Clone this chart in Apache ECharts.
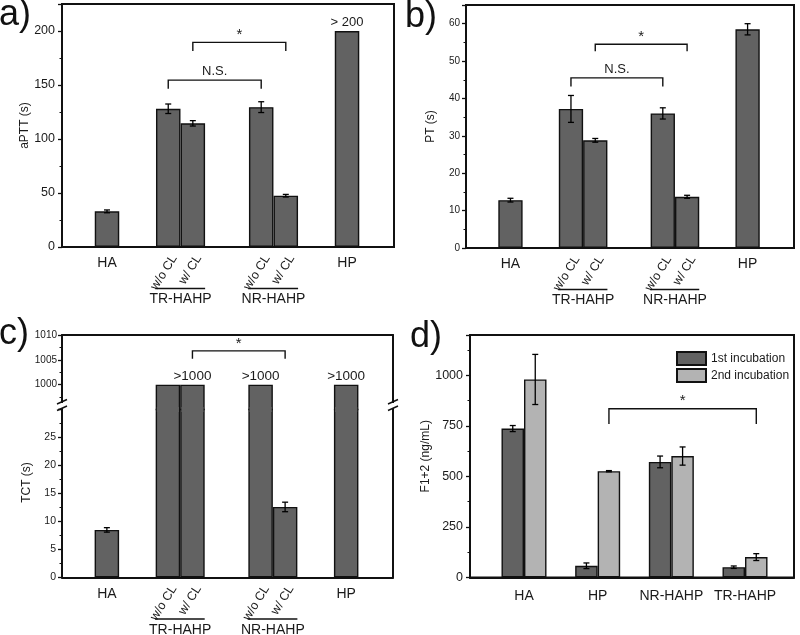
<!DOCTYPE html>
<html><head><meta charset="utf-8">
<script src="https://cdn.jsdelivr.net/npm/echarts@6/dist/echarts.min.js"></script>
<style>html,body{margin:0;padding:0;background:#fff}#c{width:800px;height:635px}</style>
</head><body><div id="c"></div>
<script>
// ---------------- data ----------------
const groupsABC = ['HA', 'TR-HAHP', 'NR-HAHP', 'HP'];
const subLabels = ['w/o CL', 'w/ CL'];
const barsABC = ['HA', 'TR-HAHP w/o CL', 'TR-HAHP w/ CL', 'NR-HAHP w/o CL', 'NR-HAHP w/ CL', 'HP'];
const aPTT = [33, 128, 114.5, 129.5, 47.5, 200];
const aPTTErr = [1.3, 4.4, 2.5, 5, 1.2, 0];
const PT = [12.8, 37.2, 28.8, 36.0, 13.7, 58.5];
const PTErr = [0.5, 3.6, 0.5, 1.5, 0.4, 1.5];
const TCT = [8.5, 1000, 1000, 1000, 12.6, 1000];
const TCTErr = [0.4, 0, 0, 0, 0.85, 0];
const topLabelsA = ['', '', '', '', '', '> 200'];
const topLabelsC = ['', '', '>1000', '>1000', '', '>1000'];
const groupsD = ['HA', 'HP', 'NR-HAHP', 'TR-HAHP'];
const seriesD = ['1st incubation', '2nd incubation'];
const F12first = [737, 58, 572, 51];
const F12firstErr = [15, 14, 29, 6];
const F12second = [980, 526, 601, 101];
const F12secondErr = [124, 3, 45, 17];
// significance brackets: bar indices, bracket level, leg end, text
const bracketsA = [{a: 1, b: 3, y: 154.5, leg: 146.5, t: 'N.S.'}, {a: 2, b: 4, y: 189.5, leg: 181.5, t: '*'}];
const bracketsB = [{a: 1, b: 3, y: 45.5, leg: 43.2, t: 'N.S.'}, {a: 2, b: 4, y: 54.5, leg: 52.6, t: '*'}];
const bracketsC = [{a: 2, b: 4, y: 1006.8, leg: 1005.2, t: '*'}];
const bracketsD = [{a: 1, b: 3, y: 835, leg: 760, t: '*'}];

// ---------------- layout / style ----------------
const FONT = '"Liberation Sans", Arial, Helvetica, sans-serif';
const TXT = '#1a1a1a', EDGE = '#111', DARK = '#626262', LIGHT = '#b3b3b3';
const LW = 2;
const groupCenter = [1.83, 4.82, 8.6, 11.59];
const barGroup = [0, 1, 1, 2, 2, 3];
const barOffset = [0, -0.5, 0.5, -0.5, 0.5, 0];
const barX = barGroup.map((g, i) => groupCenter[g] + barOffset[i]);
const C_TOP_MIN = 995, C_BOT_MAX = 30;
const BW = 24.5, BWD = 22.5;

const chart = echarts.init(document.getElementById('c'), null, {renderer: 'canvas'});

function txtStyle(text, size, align, valign) {
  return {text: text, fill: TXT, font: size + 'px ' + FONT, align: align, textAlign: align,
          verticalAlign: valign, textVerticalAlign: valign};
}
function xAxisABC(grid, pos) {
  return {type: 'value', gridIndex: grid, min: 0, max: 13.5, position: pos || 'bottom',
    axisLine: {show: true, onZero: false, lineStyle: {color: EDGE, width: LW}},
    axisTick: {show: false}, axisLabel: {show: false}, splitLine: {show: false}};
}
function yAxisBase(grid, o) {
  return Object.assign({type: 'value', gridIndex: grid,
    axisLine: {show: true, onZero: false, lineStyle: {color: EDGE, width: LW}},
    axisTick: {show: true, inside: false, length: 4, lineStyle: {color: EDGE, width: 1.3}},
    minorTick: {show: true, splitNumber: 2, length: 2.5, lineStyle: {color: EDGE, width: 1}},
    splitLine: {show: false},
    nameLocation: 'middle', nameTextStyle: {fontSize: 12, color: TXT, fontFamily: FONT}}, o);
}
function barSeries(xi, yi, data, color, extra) {
  return Object.assign({type: 'bar', xAxisIndex: xi, yAxisIndex: yi, data: data, barWidth: BW,
    itemStyle: {color: color, borderColor: EDGE, borderWidth: 1.4}, silent: true, z: 2}, extra || {});
}
function errSeries(xi, yi, xs, vals, errs, dxPx) {
  return {type: 'custom', xAxisIndex: xi, yAxisIndex: yi, clip: false, silent: true, z: 4,
    encode: {x: 0, y: 1},
    data: xs.map((x, i) => [x, vals[i], errs[i]]),
    renderItem: function (params, api) {
      const x = api.value(0), v = api.value(1), e = api.value(2);
      if (!(e > 0)) return null;
      const lo = api.coord([x, v - e]), hi = api.coord([x, v + e]);
      const cx = lo[0] + (dxPx || 0), c = 3;
      const st = {stroke: '#000', lineWidth: 1.3};
      return {type: 'group', children: [
        {type: 'line', shape: {x1: cx, y1: lo[1], x2: cx, y2: hi[1]}, style: st},
        {type: 'line', shape: {x1: cx - c, y1: lo[1], x2: cx + c, y2: lo[1]}, style: st},
        {type: 'line', shape: {x1: cx - c, y1: hi[1], x2: cx + c, y2: hi[1]}, style: st}
      ]};
    }};
}
function bracketSeries(xi, yi, list, xs, fs) {
  return {type: 'custom', xAxisIndex: xi, yAxisIndex: yi, clip: false, silent: true, z: 5,
    encode: {x: [0, 1], y: [2, 3]},
    data: list.map(b => [xs[b.a], xs[b.b], b.y, b.leg]),
    renderItem: function (params, api) {
      const b = list[params.dataIndex];
      const p1 = api.coord([api.value(0), api.value(2)]), p2 = api.coord([api.value(1), api.value(2)]);
      const l1 = api.coord([api.value(0), api.value(3)]), l2 = api.coord([api.value(1), api.value(3)]);
      return {type: 'group', children: [
        {type: 'polyline', shape: {points: [l1, p1, p2, l2]}, style: {stroke: EDGE, lineWidth: 1.4, fill: null}},
        {type: 'text', x: (p1[0] + p2[0]) / 2, y: p1[1] - (b.t === '*' ? 0 : 2),
          style: txtStyle(b.t, b.t === '*' ? 15 : (fs || 13), 'center', 'bottom')}
      ]};
    }};
}
function catLabelSeries(xi, yi, yMin) {
  return {type: 'custom', xAxisIndex: xi, yAxisIndex: yi, clip: false, silent: true, z: 5,
    encode: {x: 0, y: 1},
    data: groupCenter.map(c => [c, yMin]),
    renderItem: function (params, api) {
      const g = params.dataIndex;
      const members = barX.map((x, i) => i).filter(i => barGroup[i] === g);
      const base = api.coord([api.value(0), yMin]);
      const kids = [];
      if (members.length === 1) {
        kids.push({type: 'text', x: base[0], y: base[1] + 16.5, style: txtStyle(groupsABC[g], 14, 'center', 'middle')});
      } else {
        members.forEach((i, k) => {
          const p = api.coord([barX[i], yMin]);
          kids.push({type: 'text', x: p[0] + 6, y: p[1] + 9, rotation: 58 * Math.PI / 180,
            style: txtStyle(subLabels[k], 12.5, 'right', 'middle')});
        });
        const l = api.coord([api.value(0) - 1.03, yMin]), r = api.coord([api.value(0) + 1.0, yMin]);
        kids.push({type: 'line', shape: {x1: l[0], y1: l[1] + 41.5, x2: r[0], y2: r[1] + 41.5},
          style: {stroke: EDGE, lineWidth: 1.4}});
        kids.push({type: 'text', x: base[0], y: base[1] + 52.5, style: txtStyle(groupsABC[g], 14, 'center', 'middle')});
      }
      return {type: 'group', children: kids};
    }};
}

const option = {
  animation: false,
  textStyle: {fontFamily: FONT},
  grid: [
    {left: 62, top: 4, width: 332, height: 243, show: true, borderColor: EDGE, borderWidth: LW},
    {left: 466, top: 5, width: 328, height: 243, show: true, borderColor: EDGE, borderWidth: LW},
    {left: 62, top: 335, width: 331, height: 74.5},
    {left: 62, top: 409.5, width: 331, height: 168},
    {left: 470, top: 335, width: 324, height: 242.5, show: true, borderColor: EDGE, borderWidth: LW}
  ],
  xAxis: [
    xAxisABC(0), xAxisABC(1), xAxisABC(2, 'top'), xAxisABC(3),
    {type: 'value', gridIndex: 4, min: -0.733, max: 3.665,
      axisLine: {show: true, onZero: false, lineStyle: {color: EDGE, width: LW}},
      axisTick: {show: false}, splitLine: {show: false},
      axisLabel: {show: true, customValues: [0, 1, 2, 3], formatter: v => groupsD[Math.round(v)] || '',
        fontSize: 14, color: TXT, margin: 12, fontFamily: FONT}}
  ],
  yAxis: [
    yAxisBase(0, {min: 0, max: 225, interval: 50, name: 'aPTT (s)', nameGap: 30,
      axisLabel: {fontSize: 12.5, color: TXT, margin: 7, formatter: v => v > 200 ? '' : v}}),
    yAxisBase(1, {min: 0, max: 65, interval: 10, name: 'PT (s)', nameGap: 29,
      axisLabel: {fontSize: 10, color: TXT, margin: 6, formatter: v => v > 60 ? '' : v}}),
    yAxisBase(2, {min: C_TOP_MIN, max: 1010, interval: 5,
      axisLabel: {fontSize: 10, color: TXT, margin: 5, formatter: v => v < 1000 ? '' : v}}),
    yAxisBase(3, {min: 0, max: C_BOT_MAX, interval: 5, name: 'TCT (s)', nameGap: 29,
      nameTextStyle: {fontSize: 12, color: TXT, fontFamily: FONT, padding: [0, 0, 0, 22]},
      axisLabel: {fontSize: 10.5, color: TXT, margin: 6, formatter: v => v >= C_BOT_MAX ? '' : v}}),
    {type: 'value', gridIndex: 2, position: 'right', min: C_TOP_MIN, max: 1010,
      axisLine: {show: true, onZero: false, lineStyle: {color: EDGE, width: LW}},
      axisTick: {show: false}, axisLabel: {show: false}, splitLine: {show: false}},
    {type: 'value', gridIndex: 3, position: 'right', min: 0, max: C_BOT_MAX,
      axisLine: {show: true, onZero: false, lineStyle: {color: EDGE, width: LW}},
      axisTick: {show: false}, axisLabel: {show: false}, splitLine: {show: false}},
    yAxisBase(4, {min: 0, max: 1200, interval: 250, name: 'F1+2 (ng/mL)', nameGap: 36,
      axisLabel: {fontSize: 12.5, color: TXT, margin: 7, formatter: v => v > 1000 ? '' : v}})
  ],
  legend: {data: seriesD, orient: 'vertical', left: 671, top: 346, itemWidth: 29, itemHeight: 13, itemGap: 2,
    icon: 'rect', selectedMode: false, textStyle: {fontSize: 12, color: TXT, fontFamily: FONT}},
  graphic: [
    {type: 'text', left: -1, top: -3, style: {text: 'a)', font: '36px ' + FONT, fill: '#111'}},
    {type: 'text', left: 405, top: -1, style: {text: 'b)', font: '36px ' + FONT, fill: '#111'}},
    {type: 'text', left: -1, top: 316, style: {text: 'c)', font: '36px ' + FONT, fill: '#111'}},
    {type: 'text', left: 410, top: 319, style: {text: 'd)', font: '36px ' + FONT, fill: '#111'}}
  ],
  series: [
    // panel a
    barSeries(0, 0, barX.map((x, i) => [x, aPTT[i]]), DARK, {name: 'aPTT',
      label: {show: true, position: 'top', distance: 2, formatter: p => topLabelsA[p.dataIndex],
        fontSize: 13, color: TXT, fontFamily: FONT}}),
    errSeries(0, 0, barX, aPTT, aPTTErr),
    bracketSeries(0, 0, bracketsA, barX),
    catLabelSeries(0, 0, 0),
    // panel b
    barSeries(1, 1, barX.map((x, i) => [x, PT[i]]), DARK, {name: 'PT', barWidth: 24.3}),
    errSeries(1, 1, barX, PT, PTErr),
    bracketSeries(1, 1, bracketsB, barX),
    catLabelSeries(1, 1, 0),
    // panel c (broken axis: two stacked grids)
    barSeries(3, 3, barX.map((x, i) => [x, TCT[i]]), DARK, {name: 'TCT low', clip: true}),
    barSeries(2, 2, barX.map((x, i) => [x, TCT[i] >= C_TOP_MIN ? TCT[i] : null]), DARK, {name: 'TCT high', clip: true,
      label: {show: true, position: 'top', distance: 1, formatter: p => topLabelsC[p.dataIndex],
        fontSize: 13.5, color: TXT, fontFamily: FONT}}),
    {type: 'custom', xAxisIndex: 3, yAxisIndex: 3, clip: false, silent: true, z: 6,
      encode: {x: 0, y: 1}, data: barX.map((x, i) => [x, TCT[i]]),
      renderItem: function (params, api) {
        if (!(api.value(1) > C_BOT_MAX)) return null;
        const p = api.coord([api.value(0), C_BOT_MAX]);
        return {type: 'rect', shape: {x: p[0] - BW / 2 + 1.2, y: p[1] - 2.5, width: BW - 2.4, height: 5},
          style: {fill: DARK}};
      }},
    {type: 'custom', xAxisIndex: 3, yAxisIndex: 3, clip: false, silent: true, z: 7,
      encode: {x: 0, y: 1}, data: [[0, C_BOT_MAX], [13.5, C_BOT_MAX]],
      renderItem: function (params, api) {
        const p = api.coord([api.value(0), api.value(1)]);
        const cx = p[0], cy = p[1] - 4;
        const st = {stroke: EDGE, lineWidth: 1.4};
        return {type: 'group', children: [
          {type: 'rect', shape: {x: cx - 3, y: cy - 2.5, width: 6, height: 5}, style: {fill: '#fff'}},
          {type: 'line', shape: {x1: cx - 5, y1: cy - 1.5, x2: cx + 5, y2: cy - 6}, style: st},
          {type: 'line', shape: {x1: cx - 5, y1: cy + 5, x2: cx + 5, y2: cy + 0.5}, style: st}
        ]};
      }},
    errSeries(3, 3, barX, TCT, TCTErr),
    bracketSeries(2, 2, bracketsC, barX),
    catLabelSeries(3, 3, 0),
    // panel d
    {type: 'bar', name: seriesD[0], xAxisIndex: 4, yAxisIndex: 6, barWidth: BWD, barGap: '0%', silent: true,
      data: groupsD.map((g, i) => [i, F12first[i]]),
      itemStyle: {color: DARK, borderColor: EDGE, borderWidth: 1.4}},
    {type: 'bar', name: seriesD[1], xAxisIndex: 4, yAxisIndex: 6, barWidth: BWD, barGap: '0%', silent: true,
      data: groupsD.map((g, i) => [i, F12second[i]]),
      itemStyle: {color: LIGHT, borderColor: EDGE, borderWidth: 1.4}},
    errSeries(4, 6, [0, 1, 2, 3], F12first, F12firstErr, -BWD / 2),
    errSeries(4, 6, [0, 1, 2, 3], F12second, F12secondErr, BWD / 2),
    bracketSeries(4, 6, bracketsD, [0.153, 1.153, 2.153, 3.153])
  ]
};
chart.setOption(option);
</script></body></html>
